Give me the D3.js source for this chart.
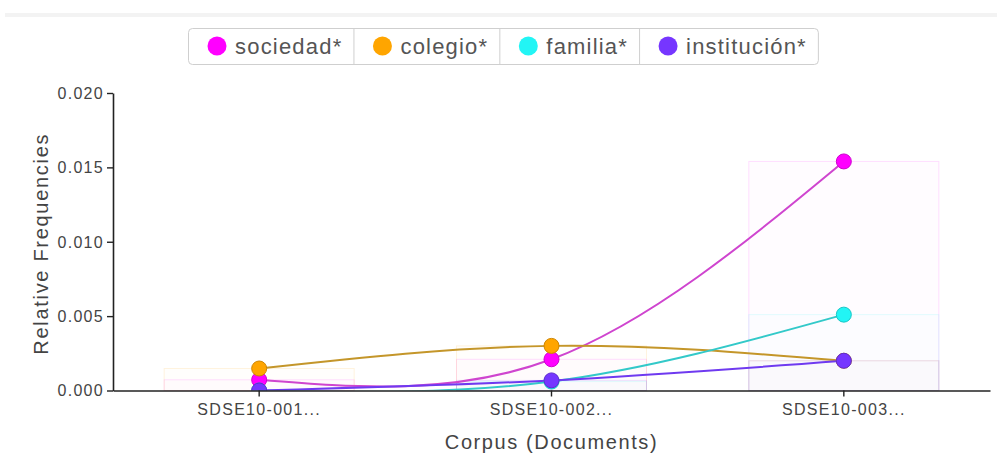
<!DOCTYPE html>
<html>
<head>
<meta charset="utf-8">
<script src="https://cdn.jsdelivr.net/npm/d3@7"></script>
<style>
  body { margin: 0; background: #fff; font-family: "Liberation Sans", Arial, sans-serif; }
  svg { display: block; }
</style>
</head>
<body>
<div id="chart"></div>
<script>
var docs = ['SDSE10-001...', 'SDSE10-002...', 'SDSE10-003...'];
var terms = ['sociedad*', 'colegio*', 'familia*', 'institución*'];
var colors = ['#ff00ff', '#ffa500', '#22f5f5', '#7636ff'];
var lineColors = ['#cf45cf', '#c4962a', '#33c9c9', '#6f3af0'];

var sociedad = [0.00072, 0.0021, 0.0154];
var colegio = [0.00148, 0.00300, 0.0020];
var familia = [0.0, 0.0006, 0.0051];
var institucion = [0.0, 0.00068, 0.0020];
var series = [sociedad, colegio, familia, institucion];

var yTicks = [0, 0.005, 0.010, 0.015, 0.020];

var width = 997, height = 456;
var mLeft = 113, mRight = 990, mTop = 93, mBottom = 390.5;

var svg = d3.select('#chart')
    .append('svg')
    .attr('width', width)
    .attr('height', height);

// faint band at the top of the panel
svg.append('rect')
    .attr('x', 5).attr('y', 13)
    .attr('width', width - 5).attr('height', 4)
    .attr('fill', '#f3f3f3');

var x = d3.scaleBand().domain(docs).range([mLeft, mRight]).padding(0);
var y = d3.scaleLinear().domain([0, 0.02]).range([mBottom, mTop]);
var barW = x.bandwidth() * 0.65;
var cx = function(i) { return x(docs[i]) + x.bandwidth() / 2; };

svg.append('clipPath').attr('id', 'plot')
  .append('rect')
    .attr('x', mLeft).attr('y', 0)
    .attr('width', mRight - mLeft).attr('height', mBottom);

// translucent bars behind the lines
var bars = svg.append('g');
series.forEach(function(vals, s) {
	bars.selectAll(null)
	    .data(vals)
	    .enter().append('rect')
	    .attr('x', function(d, i) { return cx(i) - barW / 2; })
	    .attr('y', function(d) { return y(d); })
	    .attr('width', barW)
	    .attr('height', function(d) { return mBottom - y(d); })
	    .attr('fill', colors[s])
	    .attr('fill-opacity', 0.012)
	    .attr('stroke', colors[s])
	    .attr('stroke-opacity', 0.13);
});

var plot = svg.append('g').attr('clip-path', 'url(#plot)');

var line = d3.line()
    .x(function(d, i) { return cx(i); })
    .y(function(d) { return y(d); })
    .curve(d3.curveNatural);

series.forEach(function(vals, s) {
	plot.append('path')
	    .datum(vals)
	    .attr('d', line)
	    .attr('fill', 'none')
	    .attr('stroke', lineColors[s])
	    .attr('stroke-width', 2);
});

series.forEach(function(vals, s) {
	plot.selectAll(null)
	    .data(vals)
	    .enter().append('circle')
	    .attr('cx', function(d, i) { return cx(i); })
	    .attr('cy', function(d) { return y(d); })
	    .attr('r', 7.5)
	    .attr('fill', colors[s])
	    .attr('stroke', d3.color(colors[s]).darker(0.6))
	    .attr('stroke-width', 1);
});

// axes
var yAxis = svg.append('g')
    .attr('transform', 'translate(' + mLeft + ',0)')
    .call(d3.axisLeft(y).tickValues(yTicks).tickFormat(d3.format('.3f')).tickSizeOuter(0));
var xAxis = svg.append('g')
    .attr('transform', 'translate(0,' + mBottom + ')')
    .call(d3.axisBottom(x).tickSizeOuter(0));

[yAxis, xAxis].forEach(function(a) {
	a.select('.domain').attr('stroke', '#222').attr('stroke-width', 1.6);
	a.selectAll('.tick line').attr('stroke', '#222').attr('stroke-width', 1.4);
	a.selectAll('.tick text')
	    .attr('fill', '#444')
	    .style('font-family', '"Liberation Sans", Arial, sans-serif')
	    .style('font-size', '16px')
	    .style('letter-spacing', '1.3px');
});
yAxis.selectAll('.tick text').attr('x', -9).attr('dy', '0.34em');
xAxis.selectAll('.tick text').attr('y', 13);

svg.append('text')
    .attr('transform', 'translate(48,' + ((mTop + mBottom) / 2 + 2) + ') rotate(-90)')
    .attr('text-anchor', 'middle')
    .attr('fill', '#444')
    .style('font-size', '20px')
    .style('letter-spacing', '1.7px')
    .text('Relative Frequencies');

svg.append('text')
    .attr('x', (mLeft + mRight) / 2)
    .attr('y', 449)
    .attr('text-anchor', 'middle')
    .attr('fill', '#444')
    .style('font-size', '20px')
    .style('letter-spacing', '1.6px')
    .text('Corpus (Documents)');

// legend as a button group
var legend = svg.append('g');
var lx = 188, ly = 28, lh = 36;
var itemX = [];
var cur = lx;
terms.forEach(function(t, s) {
	var g = legend.append('g');
	var txt = g.append('text')
	    .attr('y', ly + lh / 2)
	    .attr('dy', '0.35em')
	    .attr('fill', '#555')
	    .style('font-size', '22px')
	    .style('letter-spacing', '1.2px')
	    .text(t);
	var tw = txt.node().getComputedTextLength();
	g.append('circle')
	    .attr('cx', cur + 29)
	    .attr('cy', ly + lh / 2)
	    .attr('r', 9.5)
	    .attr('fill', colors[s]);
	txt.attr('x', cur + 47);
	itemX.push(cur);
	cur = cur + 47 + tw + 11;
});
legend.insert('rect', ':first-child')
    .attr('x', lx + 0.5).attr('y', ly + 0.5)
    .attr('width', cur - lx).attr('height', lh)
    .attr('rx', 4)
    .attr('fill', '#fff')
    .attr('stroke', '#cfcfcf');
itemX.slice(1).forEach(function(xx) {
	legend.append('line')
	    .attr('x1', xx + 0.5).attr('x2', xx + 0.5)
	    .attr('y1', ly + 1).attr('y2', ly + lh)
	    .attr('stroke', '#cfcfcf');
});
</script>
</body>
</html>
